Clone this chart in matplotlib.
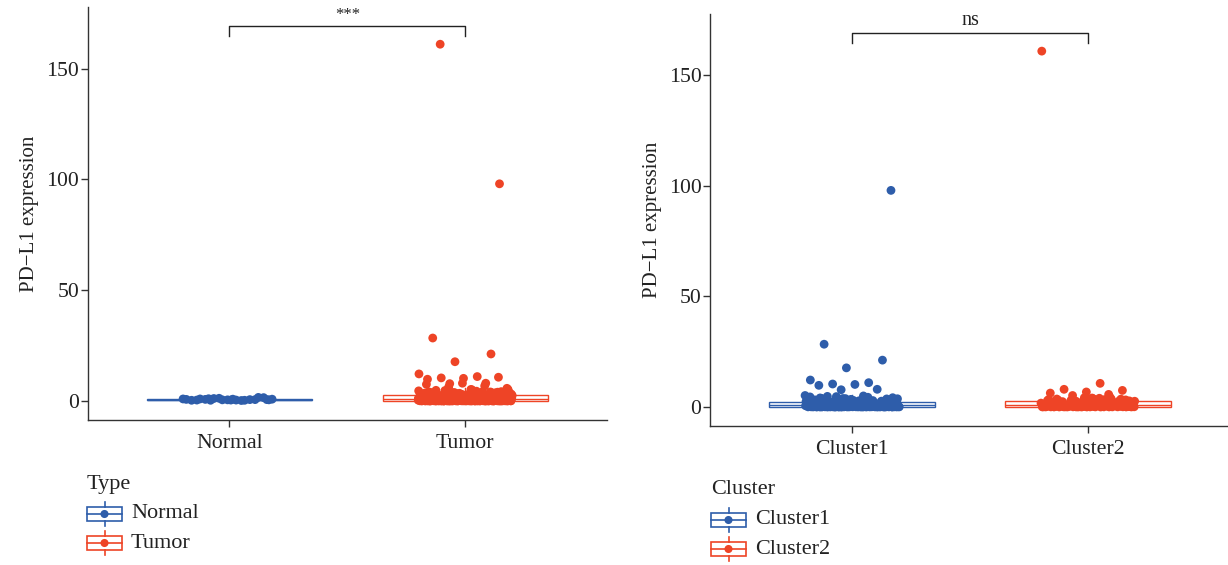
import numpy as np
import matplotlib
matplotlib.use("Agg")
import matplotlib.pyplot as plt
from matplotlib.patches import Rectangle
from matplotlib.lines import Line2D

# ---------------- data ----------------
type_categories = ["Normal", "Tumor"]
cluster_categories = ["Cluster1", "Cluster2"]

normal_values = [0.3, 0.5, 0.8, 0.4, 0.6, 1.2, 0.9, 0.2, 0.7, 1.5, 0.5, 0.3,
                 0.6, 1.1, 0.8, 0.4, 0.9, 1.6, 0.5, 0.7, 0.3, 1.0, 0.6, 0.4]

cluster1_values = [28.4, 21.2, 17.7, 12.2, 11.0, 10.4, 98.0, 10.2, 9.8, 8.0, 7.8, 5.2, 5.0, 4.8,
                   0.12, 0.35, 0.58, 0.81, 1.04, 0.27, 1.62, 2.15, 0.44, 0.93,
                   3.1, 0.19, 1.37, 0.66, 2.48, 0.08, 1.15, 0.52, 3.72, 0.31,
                   1.88, 0.74, 0.23, 2.9, 1.26, 0.47, 0.05, 1.71, 4.1, 0.62,
                   0.95, 2.33, 0.16, 1.49, 0.39, 3.45, 0.84, 0.28, 1.97, 0.56,
                   0.11, 2.62, 1.08, 0.71, 0.34, 4.4, 1.33, 0.2, 0.89, 2.05,
                   0.43, 1.56, 0.15, 3.28, 0.67, 1.19, 0.3, 2.77, 0.98, 0.07,
                   1.42, 0.54, 3.9, 0.26, 1.79, 0.61, 0.14, 2.24, 1.01, 0.37,
                   0.79, 1.64, 0.09, 2.56, 0.48, 3.58, 1.23, 0.33, 0.86, 1.93,
                   0.18, 2.41, 0.69, 1.11, 0.25, 3.02, 0.57, 1.52, 0.04, 2.86,
                   0.92, 0.41, 1.29, 4.7, 0.63, 1.74, 0.22, 2.11, 0.76, 1.38,
                   0.51, 1.86, 0.13, 2.97, 0.72, 1.45, 3.4, 0.29, 1.07, 2.28,
                   0.06, 0.88, 1.67, 0.36, 2.69, 4.2, 0.59, 1.21, 0.17, 3.83,
                   0.97, 0.42, 2.01, 1.58, 0.24, 3.15, 0.81, 1.34, 0.1, 2.52,
                   0.66, 1.95, 0.32, 4.55, 1.16, 0.49, 2.38, 0.77, 1.49, 0.03,
                   0.02, 0.05, 0.01, 0.08, 0.03, 0.06, 0.04, 0.09, 0.02, 0.07,
                   0.05, 0.01, 0.03, 0.08, 0.06, 0.02, 0.04, 0.07, 0.09, 0.03,
                   0.06, 0.02, 0.05, 0.01, 0.08, 0.04, 0.03, 0.07, 0.05, 0.02,
                   0.04, 0.09, 0.01, 0.06, 0.03,
                   2.45, 3.3, 2.7, 3.65, 2.58, 3.1, 2.9, 3.5, 2.36, 2.82,
                   3.25, 2.64, 3.8, 2.5, 2.95]

cluster2_values = [161.0, 10.7, 8.0, 7.5, 6.8, 6.3, 5.7, 5.2,
                   0.21, 0.64, 1.12, 0.38, 2.04, 0.87, 1.55, 0.13, 3.2, 0.72,
                   1.31, 0.46, 2.67, 0.09, 0.95, 1.83, 0.29, 4.2, 0.58, 1.07,
                   2.35, 0.17, 0.81, 3.6, 1.44, 0.52, 0.06, 1.96, 0.69, 2.88,
                   0.34, 1.21, 4.5, 0.77, 0.24, 1.68, 0.49, 2.52, 1.02, 0.15,
                   3.35, 0.61, 1.39, 0.27, 2.19, 0.83, 0.42, 1.76, 3.95, 0.11,
                   1.17, 0.55, 2.71, 0.36, 0.97, 1.58, 0.2, 3.1, 0.74, 1.27,
                   0.44, 1.91, 0.08, 2.46, 0.68, 1.36, 3.72, 0.31, 1.05, 2.13,
                   0.57, 1.62, 0.19, 2.94, 0.86, 0.4, 1.49, 4.05, 0.26, 1.14,
                   0.03, 0.07, 0.01, 0.05, 0.09, 0.02, 0.06, 0.04, 0.08, 0.03,
                   0.05, 0.02, 0.07, 0.01, 0.04, 0.06, 0.09, 0.03, 0.05, 0.02,
                   0.06, 0.04,
                   2.6, 3.15, 2.42, 3.55, 2.85, 3.4, 2.55, 3.05, 2.75, 3.7]

tumor_values = cluster1_values + cluster2_values

y_ticks = [0, 50, 100, 150]
sig_labels = ["***", "ns"]
legend_titles = ["Type", "Cluster"]
y_label = "PD\u2212L1 expression"

# ---------------- style ----------------
BLUE = "#2E5DAA"
RED = "#EE4426"
TXT = "#222222"
W, H = 1228, 565
FONT = ["Liberation Serif", "DejaVu Serif"]
plt.rcParams["font.family"] = FONT

fig = plt.figure(figsize=(W / 100, H / 100), dpi=100)


def ax_rect(x0, y0, x1, y1):
    return [x0 / W, 1 - y1 / H, (x1 - x0) / W, (y1 - y0) / H]


def jitter(n, phase, width=0.2):
    phi = 0.6180339887
    return np.array([((i * phi + phase) % 1.0 - 0.5) * 2 * width for i in range(n)])


def panel(ax, cats, groups, colors, phases, sig, xmax):
    for i, (vals, c, ph) in enumerate(zip(groups, colors, phases)):
        pos = i + 1
        ax.boxplot([vals], positions=[pos], widths=0.7, showfliers=False,
                   showcaps=False, patch_artist=True,
                   boxprops=dict(facecolor="white", edgecolor=c, linewidth=1.0),
                   medianprops=dict(color=c, linewidth=1.0),
                   whiskerprops=dict(color=c, linewidth=1.0), zorder=2)
        v = np.array(vals)
        ax.scatter(pos + jitter(len(v), ph), v, s=40, color=c, edgecolors="none", zorder=3)
    ax.set_xlim(0.4, xmax)
    ax.set_ylim(-8.6, 177.8)
    ax.set_xticks([1, 2])
    ax.set_xticklabels(cats)
    ax.set_yticks(y_ticks)
    ax.set_ylabel(y_label, fontsize=15, color=TXT, labelpad=5)
    for s in ["top", "right"]:
        ax.spines[s].set_visible(False)
    for s in ["left", "bottom"]:
        ax.spines[s].set_color("#333333")
        ax.spines[s].set_linewidth(1.0)
    ax.tick_params(axis="both", direction="out", length=5, width=1.0, color="#333333",
                   labelsize=15.7, labelcolor=TXT)
    ax.tick_params(axis="x", pad=5)
    ax.tick_params(axis="y", pad=1.5)
    # significance bracket
    yb, yt = 164.5, 169.4
    ax.plot([1, 1, 2, 2], [yb, yt, yt, yb], color="#222222", lw=1.0, clip_on=False)
    ax.text(1.5, yt + 1.2, sig, ha="center", va="bottom", fontsize=14.5 if sig == "ns" else 12,
            color=TXT)


ax1 = fig.add_axes(ax_rect(88, 7, 606.6, 420))
panel(ax1, type_categories, [normal_values, tumor_values], [BLUE, RED], [0.3, 0.156],
      sig_labels[0], 2.6)

ax2 = fig.add_axes(ax_rect(710.4, 14, 1228, 426))
panel(ax2, cluster_categories, [cluster1_values, cluster2_values], [BLUE, RED], [0.2045, 0.01],
      sig_labels[1], 2.593)

# ---------------- legends (pixel overlay) ----------------
ov = fig.add_axes([0, 0, 1, 1])
ov.set_xlim(0, W)
ov.set_ylim(H, 0)
ov.axis("off")


def legend(x0, ytitle, title, labels, ycenters, colors):
    ov.text(x0, ytitle, title, ha="left", va="center", fontsize=16, color=TXT)
    for lab, yc, c in zip(labels, ycenters, colors):
        ov.add_patch(Rectangle((x0, yc - 7), 35, 14, facecolor="white", edgecolor=c, lw=1.2))
        ov.add_line(Line2D([x0, x0 + 35], [yc, yc], color=c, lw=1.2))
        ov.add_line(Line2D([x0 + 17.5, x0 + 17.5], [yc - 12, yc - 7], color=c, lw=1.2))
        ov.add_line(Line2D([x0 + 17.5, x0 + 17.5], [yc + 7, yc + 12], color=c, lw=1.2))
        ov.scatter([x0 + 17.5], [yc], s=34, color=c, edgecolors="none", zorder=3)
        ov.text(x0 + 44, yc, lab, ha="left", va="center", fontsize=16, color=TXT)


legend(87, 484, legend_titles[0], type_categories, [514, 543], [BLUE, RED])
legend(711, 489, legend_titles[1], cluster_categories, [520, 549], [BLUE, RED])

fig.savefig("out.png", dpi=100)
